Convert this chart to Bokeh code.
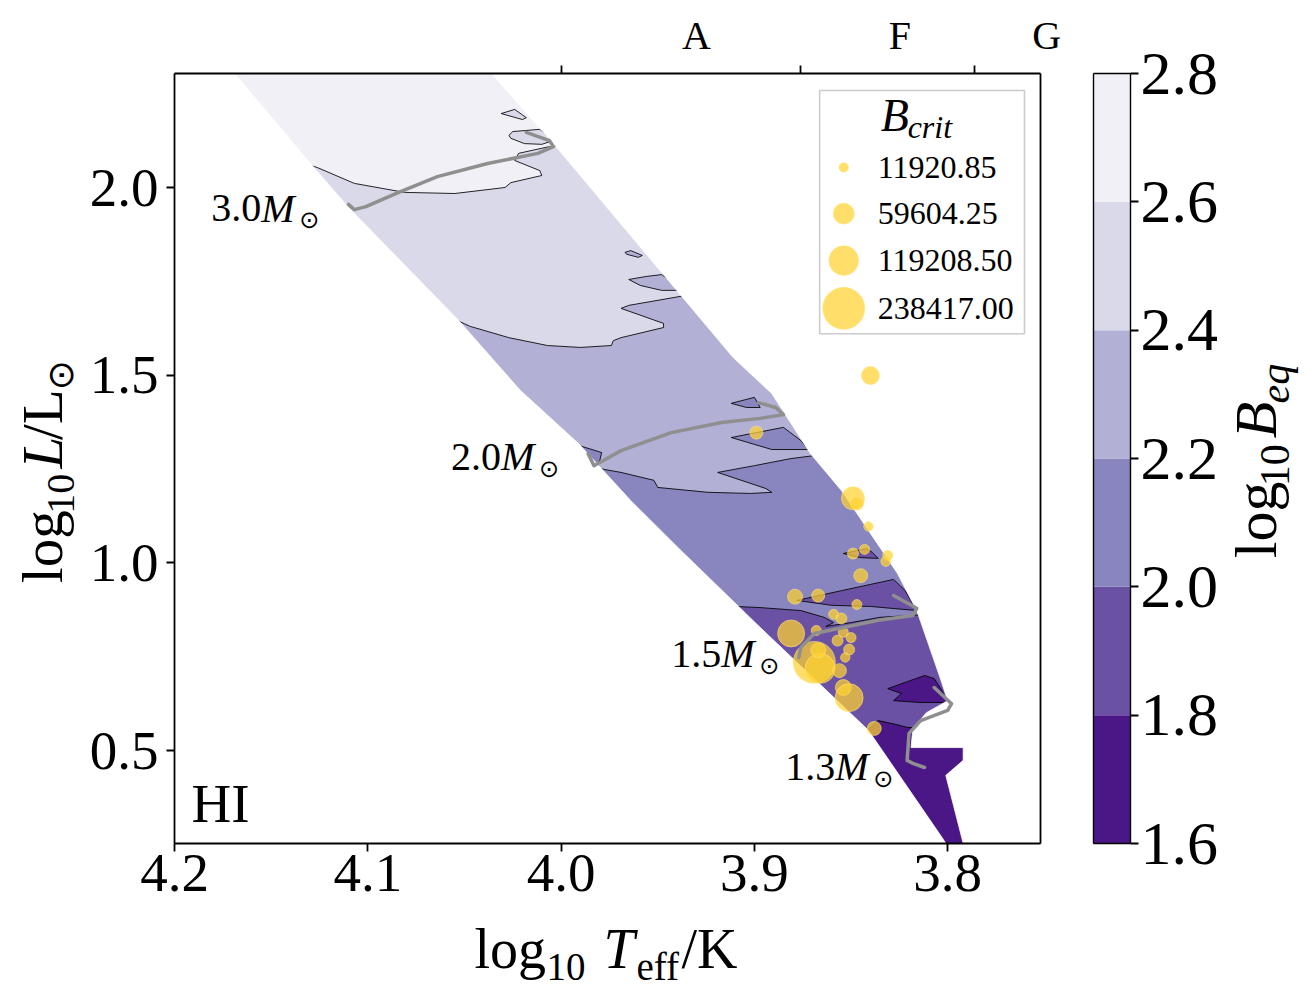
import numpy as np
from bokeh.plotting import figure
from bokeh.models import (Range1d, LinearAxis, FixedTicker, PrintfTickFormatter,
                          Label, ColumnDataSource)
from bokeh.layouts import row, column
from bokeh.embed import file_html
from bokeh.resources import INLINE
from bokeh.core.properties import value

# ---------------- data ----------------
levels = [1.6, 1.8, 2.0, 2.2, 2.4, 2.6, 2.8]
level_colors = ["#4b1787", "#6a51a3", "#8986bf", "#b2b0d5", "#dad9ea", "#f1f0f6"]

# edges of the model grid in the HR diagram (log Teff, log L)
band_left_teff = [4.183, 4.169, 4.131, 4.110, 4.053, 4.021, 3.991, 3.964, 3.938, 3.897, 3.841, 3.803, 3.801, 3.791]
band_left_logl = [2.392, 2.304, 2.072, 1.947, 1.646, 1.459, 1.318, 1.166, 1.033, 0.828, 0.554, 0.269, 0.253, 0.181]
band_right_teff = [4.052, 4.036, 4.004, 3.911, 3.891, 3.871, 3.855, 3.826, 3.816, 3.804, 3.800, 3.811, 3.818, 3.819, 3.792, 3.792, 3.801, 3.792, 3.784]
band_right_logl = [2.392, 2.304, 2.117, 1.547, 1.451, 1.291, 1.193, 0.972, 0.873, 0.695, 0.633, 0.601, 0.559, 0.508, 0.508, 0.474, 0.434, 0.253, 0.181]

# contour lines of log10 B_eq
c26_teff = [4.133, 4.126, 4.107, 4.081, 4.055, 4.029, 4.026, 4.010, 4.011, 4.024, 4.022, 4.006, 3.998]
c26_logl = [2.064, 2.053, 2.011, 1.987, 1.984, 2.000, 2.013, 2.032, 2.045, 2.072, 2.091, 2.109, 2.112]
c24_teff = [4.056, 4.047, 4.027, 4.007, 3.990, 3.974, 3.973, 3.969, 3.947, 3.947, 3.969, 3.965, 3.936, 3.928]
c24_logl = [1.651, 1.630, 1.600, 1.579, 1.574, 1.579, 1.592, 1.600, 1.627, 1.638, 1.678, 1.686, 1.712, 1.712]
c22_teff = [3.983, 3.969, 3.952, 3.950, 3.924, 3.902, 3.891, 3.894, 3.919, 3.900, 3.881, 3.864]
c22_logl = [1.254, 1.241, 1.220, 1.201, 1.188, 1.185, 1.188, 1.198, 1.241, 1.259, 1.278, 1.289]
c20_teff = [3.910, 3.897, 3.876, 3.864, 3.859, 3.863, 3.850, 3.835, 3.810]
c20_logl = [0.884, 0.881, 0.873, 0.855, 0.841, 0.831, 0.841, 0.855, 0.863]
c18_teff = [3.843, 3.836, 3.827, 3.821, 3.811]
c18_logl = [0.548, 0.580, 0.570, 0.562, 0.559]

# closed islands: (index of fill level, teff, logl)
islands = [
    (4, [4.031, 4.024, 4.018, 4.020], [2.197, 2.208, 2.186, 2.181]),
    (4, [4.027, 4.025, 4.011, 4.004, 4.010, 4.019, 4.026], [2.139, 2.149, 2.155, 2.125, 2.115, 2.117, 2.131]),
    (3, [3.965, 3.956, 3.948, 3.942, 3.933, 3.948, 3.959], [1.755, 1.763, 1.768, 1.747, 1.726, 1.726, 1.739]),
    (3, [3.967, 3.964, 3.958, 3.960, 3.966], [1.827, 1.832, 1.819, 1.814, 1.822]),
    (2, [3.991, 3.979, 3.980, 3.983, 3.987], [1.313, 1.294, 1.273, 1.259, 1.286]),
    (2, [3.912, 3.885, 3.876, 3.872, 3.891], [1.334, 1.361, 1.326, 1.302, 1.302]),
    (2, [3.912, 3.900, 3.897, 3.904], [1.425, 1.441, 1.414, 1.414]),
    (1, [3.878, 3.855, 3.828, 3.822, 3.816, 3.840, 3.860], [0.900, 0.926, 0.956, 0.926, 0.873, 0.884, 0.887]),
    (1, [3.854, 3.842, 3.839, 3.836, 3.845], [1.025, 1.038, 1.028, 1.012, 1.014]),
    (0, [3.831, 3.812, 3.807, 3.803, 3.800, 3.814, 3.828, 3.824], [0.665, 0.700, 0.692, 0.660, 0.628, 0.628, 0.633, 0.652]),
]

# evolutionary tracks
track_30_teff = [4.110, 4.107, 4.101, 4.084, 4.064, 4.038, 4.012, 4.004, 4.006, 4.018]
track_30_logl = [1.955, 1.941, 1.949, 1.987, 2.029, 2.064, 2.091, 2.109, 2.125, 2.147]
track_20_teff = [3.986, 3.983, 3.969, 3.943, 3.917, 3.897, 3.885, 3.889, 3.898]
track_20_logl = [1.291, 1.259, 1.299, 1.347, 1.374, 1.385, 1.395, 1.414, 1.427]
track_15_teff = [3.877, 3.876, 3.869, 3.854, 3.836, 3.818, 3.816, 3.828]
track_15_logl = [0.748, 0.775, 0.812, 0.828, 0.847, 0.860, 0.879, 0.913]
track_13_teff = [3.807, 3.798, 3.800, 3.814, 3.820, 3.821, 3.818, 3.812]
track_13_logl = [0.668, 0.625, 0.607, 0.580, 0.546, 0.474, 0.466, 0.455]

mass_names = ["3.0", "2.0", "1.5", "1.3"]
mass_label_teff = [4.181, 4.057, 3.943, 3.884]
mass_label_logl = [1.907, 1.246, 0.721, 0.420]

# stars: log Teff, log L, B_crit
star_teff = [3.840, 3.899, 3.849, 3.847, 3.841, 3.849, 3.843, 3.831, 3.832, 3.845,
             3.879, 3.867, 3.847, 3.859, 3.855, 3.881, 3.868, 3.857, 3.854, 3.850,
             3.869, 3.866, 3.867, 3.851, 3.853, 3.856, 3.854, 3.851, 3.838]
star_logl = [1.499, 1.347, 1.172, 1.158, 1.097, 1.025, 1.036, 1.020, 1.004, 0.966,
             0.910, 0.913, 0.889, 0.863, 0.852, 0.812, 0.820, 0.793, 0.815, 0.801,
             0.735, 0.719, 0.767, 0.769, 0.748, 0.713, 0.668, 0.641, 0.559]
star_bcrit = [43800, 22850, 71500, 22850, 11920.85, 16400, 13500, 13500, 13500, 26500,
              30400, 22850, 13500, 13500, 16400, 98600, 13500, 16400, 13500, 13500,
              238417, 121700, 30400, 16400, 11920.85, 26500, 34600, 106000, 26500]

legend_values = [11920.85, 59604.25, 119208.50, 238417.00]

x_ticks = [4.2, 4.1, 4.0, 3.9, 3.8]
y_ticks = [0.5, 1.0, 1.5, 2.0]
spectral_bounds = [4.0, 3.876, 3.786]
spectral_names = ["A", "F", "\u2004G"]
spectral_pos = [3.930, 3.8248, 3.7522]

# ---------------- style ----------------
SERIF = "Liberation Serif"
SYM = "DejaVu Sans"
X0, X1 = 4.2, 3.752
Y0, Y1 = 0.2525, 2.3037
XFL, XFR = X0 + 0.1, X1 - 0.1
YFB, YFT = Y0 - 0.1, Y1 + 0.15
SIZE_K = 0.086
GOLD = "#ffd230"
ROW_H = 916
YLAB_W = 86
MAIN_W = 1075 - YLAB_W
CB_W = 146
CBLAB_W = 1312 - 1075 - CB_W
A90 = np.pi / 2


def fx(f):
    return X0 + f * (X1 - X0)


def fy(f):
    return Y0 + f * (Y1 - Y0)


def style_axis(ax, ticks, show_labels=True, size="55px", standoff=8, tick_out=8):
    ax.axis_line_color = "black"
    ax.axis_line_width = 1.8
    ax.major_tick_line_color = "black"
    ax.major_tick_line_width = 1.8
    ax.major_tick_out = tick_out
    ax.major_tick_in = 0
    ax.minor_tick_line_color = None
    ax.ticker = FixedTicker(ticks=ticks)
    ax.formatter = PrintfTickFormatter(format="%.1f")
    ax.major_label_text_font = SERIF
    if show_labels:
        ax.major_label_text_font_size = size
        ax.major_label_text_color = "black"
        ax.major_label_standoff = standoff
    else:
        ax.major_label_text_font_size = "1px"
        ax.major_label_text_color = None
        ax.major_label_standoff = 0


def text_fig(w, h):
    f = figure(width=w, height=h, x_range=Range1d(0, w), y_range=Range1d(0, h),
               output_backend="svg", toolbar_location=None, min_border=0,
               outline_line_color=None, x_axis_location=None, y_axis_location=None,
               background_fill_color="white", border_fill_color="white")
    f.grid.visible = False
    return f


def put_text(f, pieces, angle=0.0, align="left"):
    # pieces: (text, x, y, size_px, style, font)
    src = ColumnDataSource(dict(x=[q[1] for q in pieces], y=[q[2] for q in pieces],
                                t=[q[0] for q in pieces], sz=["%dpx" % q[3] for q in pieces],
                                st=[q[4] for q in pieces], fn=[q[5] for q in pieces]))
    f.text(x="x", y="y", text="t", text_font_size="sz", text_font_style="st", text_font="fn",
           angle=angle, text_align=align, text_baseline="middle", text_color="black", source=src)


# ---------------- main figure ----------------
p = figure(width=MAIN_W, height=ROW_H, x_range=Range1d(X0, X1), y_range=Range1d(Y0, Y1),
           output_backend="svg", toolbar_location=None,
           min_border_left=173 - YLAB_W, min_border_right=35, min_border_top=73,
           min_border_bottom=ROW_H - 843,
           background_fill_color="white", border_fill_color="white", outline_line_color=None)
p.grid.visible = False
style_axis(p.xaxis[0], x_ticks, standoff=3)
style_axis(p.yaxis[0], y_ticks, standoff=8)
top_ax = LinearAxis()
style_axis(top_ax, spectral_bounds, show_labels=False)
p.add_layout(top_ax, "above")
spec_ax = LinearAxis()
style_axis(spec_ax, spectral_pos, size="40px", standoff=8, tick_out=0)
spec_ax.axis_line_color = None
spec_ax.major_tick_line_color = None
spec_ax.major_label_overrides = {v: n for v, n in zip(spectral_pos, spectral_names)}
p.add_layout(spec_ax, "above")
right_ax = LinearAxis()
style_axis(right_ax, [], show_labels=False, tick_out=0)
p.add_layout(right_ax, "right")


def region_below(cx, cy):
    return (list(cx) + [XFR, XFR, XFL, XFL], list(cy) + [cy[-1], YFB, YFB, cy[0]])


fill_xs, fill_ys, fill_cs = [], [], []
fill_xs.append(band_left_teff + band_right_teff[::-1])
fill_ys.append(band_left_logl + band_right_logl[::-1])
fill_cs.append(level_colors[5])
for k, (cx, cy) in zip([4, 3, 2, 1, 0], [(c26_teff, c26_logl), (c24_teff, c24_logl),
                                          (c22_teff, c22_logl), (c20_teff, c20_logl),
                                          (c18_teff, c18_logl)]):
    rx, ry = region_below(cx, cy)
    fill_xs.append(rx)
    fill_ys.append(ry)
    fill_cs.append(level_colors[k])
    for lev, ix, iy in islands:
        if lev == k:
            fill_xs.append(ix)
            fill_ys.append(iy)
            fill_cs.append(level_colors[k])
p.patches(xs=fill_xs, ys=fill_ys, fill_color=fill_cs, line_color=None)

line_xs = [c26_teff, c24_teff, c22_teff, c20_teff, c18_teff] + [ix + ix[:1] for _, ix, _ in islands]
line_ys = [c26_logl, c24_logl, c22_logl, c20_logl, c18_logl] + [iy + iy[:1] for _, _, iy in islands]
p.multi_line(xs=line_xs, ys=line_ys, line_color="black", line_width=1.0, line_alpha=0.85)

# white masks outside the model band
mask_xs = [band_left_teff + [band_left_teff[-1], XFL, XFL, band_left_teff[0]],
           band_right_teff + [band_right_teff[-1], XFR, XFR, band_right_teff[0]]]
mask_ys = [band_left_logl + [YFB, YFB, YFT, YFT],
           band_right_logl + [YFB, YFB, YFT, YFT]]
p.patches(xs=mask_xs, ys=mask_ys, fill_color="white", line_color="white", line_width=0.8)

# legend frame
p.quad(left=[fx(0.745)], right=[fx(0.9815)], top=[fy(0.978)], bottom=[fy(0.662)],
       fill_color="white", fill_alpha=0.8, line_color="#cccccc", line_width=1.6)

# stars
star_src = ColumnDataSource(dict(x=star_teff, y=star_logl,
                                 s=[SIZE_K * np.sqrt(b) for b in star_bcrit]))
p.scatter(x="x", y="y", size="s", source=star_src, fill_color=GOLD, fill_alpha=0.72,
          line_color="#ffe27a", line_alpha=0.6, line_width=1.0)

# tracks
p.multi_line(xs=[track_30_teff, track_20_teff, track_15_teff, track_13_teff],
             ys=[track_30_logl, track_20_logl, track_15_logl, track_13_logl],
             line_color="#8f8f8f", line_width=3.5, line_cap="round", line_join="round")

# mass labels
rows = dict(x=[], y=[], t=[], st=[], sz=[], fn=[], xo=[], yo=[])
for name, mx, my in zip(mass_names, mass_label_teff, mass_label_logl):
    for t, st, sz, fn, xo, yo in [(name, "normal", "40px", SERIF, 0, -14),
                                  ("M", "italic", "40px", SERIF, 50, -14),
                                  ("\u2299", "normal", "24px", SYM, 88, -2)]:
        rows["x"].append(mx); rows["y"].append(my); rows["t"].append(t)
        rows["st"].append(st); rows["sz"].append(sz); rows["fn"].append(fn)
        rows["xo"].append(xo); rows["yo"].append(yo)
p.text(x="x", y="y", text="t", text_font="fn", text_font_style="st", text_font_size="sz",
       x_offset="xo", y_offset="yo", text_align="left", text_baseline="middle",
       text_color="black", source=ColumnDataSource(rows))

# legend content
leg_y = [fy(0.878), fy(0.818), fy(0.757), fy(0.695)]
p.scatter(x=[fx(0.7728)] * 4, y=leg_y, size=[SIZE_K * np.sqrt(v) for v in legend_values],
          fill_color=GOLD, fill_alpha=0.72, line_color="#ffe27a", line_alpha=0.6)
p.text(x=[fx(0.812)] * 4, y=leg_y, text=["%.2f" % v for v in legend_values],
       text_font=value(SERIF), text_font_size="32px", text_align="left",
       text_baseline="middle", text_color="black")
p.text(x=[fx(0.8155)], y=[fy(0.945)], text=["B"], text_font=value(SERIF),
       text_font_style="italic", text_font_size="46px", text_baseline="middle")
p.text(x=[fx(0.8466)], y=[fy(0.930)], text=["crit"], text_font=value(SERIF),
       text_font_style="italic", text_font_size="32px", text_baseline="middle")

# HI label
p.add_layout(Label(x=17, y=40, x_units="screen", y_units="screen", text="HI",
                   text_font=SERIF, text_font_size="55px", text_baseline="middle",
                   text_color="black"))

# ---------------- colour bar ----------------
p2 = figure(width=CB_W, height=ROW_H, x_range=Range1d(0, 1), y_range=Range1d(levels[0], levels[-1]),
            output_backend="svg", toolbar_location=None,
            min_border_left=18, min_border_right=CB_W - 58, min_border_top=73,
            min_border_bottom=ROW_H - 843,
            outline_line_color=None, x_axis_location=None, y_axis_location=None,
            background_fill_color="white", border_fill_color="white")
p2.grid.visible = False
p2.quad(left=0, right=1, bottom=levels[:-1], top=levels[1:], fill_color=level_colors, line_color=None)
cb_right = LinearAxis()
style_axis(cb_right, levels, size="62px", standoff=2)
cb_right.axis_line_width = 1.4
p2.add_layout(cb_right, "right")
for side in ["left", "above", "below"]:
    ax = LinearAxis()
    style_axis(ax, [], show_labels=False, tick_out=0)
    ax.axis_line_width = 1.4
    p2.add_layout(ax, side)

# ---------------- axis titles (composed text; centres of each piece) ----------------
ylab = text_fig(YLAB_W, ROW_H)
put_text(ylab, [("log", 42, ROW_H - 563, 57, "normal", SERIF),
                ("10", 60, ROW_H - 500, 40, "normal", SERIF),
                ("L", 42, ROW_H - 451, 57, "italic", SERIF),
                ("/L", 42, ROW_H - 406, 57, "normal", SERIF),
                ("\u2299", 60, ROW_H - 359, 36, "normal", SYM)], angle=A90, align="center")

cblab = text_fig(CBLAB_W, ROW_H)
put_text(cblab, [("log", 34, ROW_H - 531, 60, "normal", SERIF),
                 ("10", 53, ROW_H - 466, 42, "normal", SERIF),
                 ("B", 34, ROW_H - 412, 60, "italic", SERIF),
                 ("eq", 53, ROW_H - 369, 42, "italic", SERIF)], angle=A90, align="center")

xlab = text_fig(1312, 998 - ROW_H)
put_text(xlab, [("log", 474, 50, 56, "normal", SERIF),
                ("10", 546, 32, 39, "normal", SERIF),
                ("T", 603, 50, 56, "italic", SERIF),
                ("eff", 636, 32, 39, "normal", SERIF),
                ("/K", 681, 50, 56, "normal", SERIF)])

layout = column(row(ylab, p, p2, cblab), xlab)
open("out.html", "w").write(file_html(layout, INLINE, title="HR diagram B_eq"))
